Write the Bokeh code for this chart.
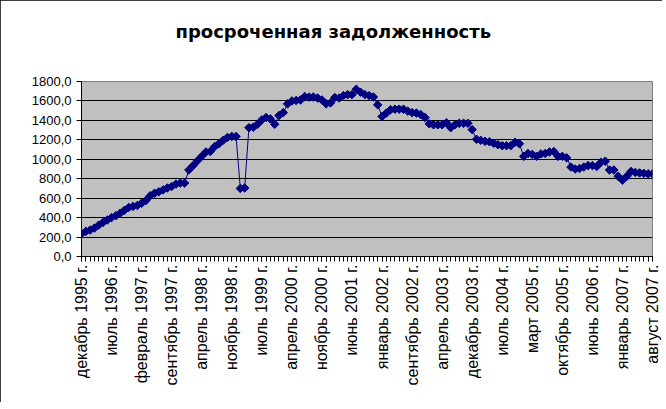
import numpy as np
from bokeh.plotting import figure
from bokeh.models import Range1d, FixedTicker, ColumnDataSource, LinearAxis
from bokeh.embed import file_html
from bokeh.resources import INLINE

title_text = "просроченная задолженность"

tick_labels = [
    "декабрь 1995 г.", "июль 1996 г.", "февраль 1997 г.", "сентябрь 1997 г.",
    "апрель 1998 г.", "ноябрь 1998 г.", "июль 1999 г.", "апрель 2000 г.",
    "ноябрь 2000 г.", "июнь 2001 г.", "январь 2002 г.", "сентябрь 2002 г.",
    "апрель 2003 г.", "декабрь 2003 г.", "июль 2004 г.", "март 2005 г.",
    "октябрь 2005 г.", "июнь 2006 г.", "январь 2007 г.", "август 2007 г.",
]
label_step = 7

values = [
    235, 258, 272, 292, 322, 350, 375, 400, 420, 445,
    475, 505, 515, 525, 548, 575, 625, 650, 665, 685,
    705, 720, 745, 755, 755, 890, 935, 985, 1030, 1075,
    1080, 1130, 1160, 1195, 1225, 1235, 1235, 700, 705, 1325,
    1330, 1360, 1405, 1430, 1415, 1360, 1450, 1480, 1570, 1600,
    1605, 1610, 1645, 1640, 1640, 1630, 1610, 1570, 1580, 1635,
    1630, 1655, 1665, 1665, 1720, 1690, 1665, 1655, 1640, 1560,
    1440, 1475, 1510, 1515, 1515, 1515, 1495, 1480, 1475, 1460,
    1430, 1365, 1355, 1355, 1355, 1375, 1325, 1355, 1370, 1370,
    1370, 1305, 1205, 1195, 1185, 1180, 1165, 1150, 1140, 1140,
    1140, 1175, 1160, 1030, 1060, 1050, 1030, 1055, 1060, 1075,
    1080, 1030, 1030, 1015, 920, 900, 905, 920, 935, 935,
    925, 970, 980, 890, 890, 825, 785, 825, 875, 865,
    860, 855, 850, 850,
]

y_ticks = list(range(0, 2000, 200))

xs = list(range(len(values)))
src = ColumnDataSource(data=dict(x=xs, y=values))

p = figure(width=662, height=402, output_backend="svg", toolbar_location=None,
           x_range=Range1d(0, len(values) - 1), y_range=Range1d(0, 1800),
           min_border_left=81, min_border_right=10, min_border_top=81,
           min_border_bottom=146)
p.styles = {"outline": "1px solid black", "outline-offset": "-1px"}

# invisible spacer axis between the frame and the title
spacer = LinearAxis(ticker=FixedTicker(ticks=[0], minor_ticks=[]),
                    axis_line_color=None,
                    major_tick_line_color=None, minor_tick_line_color=None,
                    major_tick_out=35, major_tick_in=0, minor_tick_out=0,
                    major_label_overrides={0: ""}, major_label_standoff=0,
                    major_label_text_font_size="1px")
p.add_layout(spacer, "above")

p.title.text = title_text
p.title.align = "left"
p.title.offset = 94
p.title.text_font = "DejaVu Sans"
p.title.text_font_style = "bold"
p.title.text_font_size = "18px"
p.title.text_color = "black"
p.title.standoff = 10

p.background_fill_color = "#C0C0C0"
p.border_fill_color = "white"
p.outline_line_color = "#808080"
p.outline_line_width = 1

p.line("x", "y", source=src, color="#000080", line_width=1)
p.scatter("x", "y", source=src, marker="square", angle=np.pi / 4, size=6,
          fill_color="#000080", line_color="#000080")

xa = p.below[0]
major = [i * label_step for i in range(len(tick_labels))]
xa.ticker = FixedTicker(ticks=major, minor_ticks=xs)
xa.major_label_overrides = {m: t for m, t in zip(major, tick_labels)}
xa.major_label_orientation = np.pi / 2
xa.major_tick_in = 0
xa.major_tick_out = 5
xa.minor_tick_in = 0
xa.minor_tick_out = 5
xa.minor_tick_line_color = "black"
xa.major_label_text_font = "Liberation Sans"
xa.major_label_text_font_size = "16px"
xa.major_label_text_color = "black"
xa.axis_line_color = "black"
xa.major_label_standoff = 3

ya = p.yaxis[0]
ya.ticker = FixedTicker(ticks=y_ticks)
ya.major_label_overrides = {v: f"{v},0" for v in y_ticks}
ya.major_tick_in = 0
ya.major_tick_out = 5
ya.minor_tick_line_color = None
ya.major_label_text_font = "Liberation Sans"
ya.major_label_text_font_size = "13px"
ya.major_label_text_color = "black"
ya.axis_line_color = "black"

p.xgrid.grid_line_color = None
p.ygrid.grid_line_color = "black"
p.ygrid.grid_line_width = 1

open("out.html", "w").write(file_html(p, INLINE))
